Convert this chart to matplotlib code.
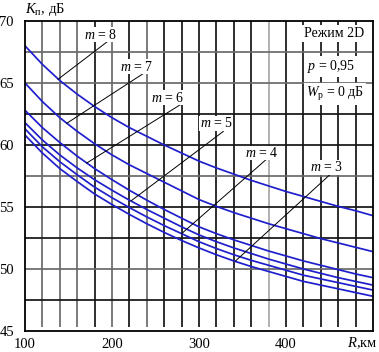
import matplotlib.pyplot as plt
import numpy as np

plt.rcParams['font.family'] = ['Liberation Serif', 'DejaVu Serif']
plt.rcParams['mathtext.fontset'] = 'custom'
plt.rcParams['mathtext.rm'] = 'Liberation Serif'
plt.rcParams['mathtext.it'] = 'Liberation Serif:italic'

# range R, km (readings every 20 km)
R = [100, 120, 140, 160, 180, 200, 220, 240, 260, 280, 300,
     320, 340, 360, 380, 400, 420, 440, 460, 480, 500]
# K_p, dB for m = 3..8
k3 = [60.8, 59.35, 58.1, 57.05, 56.05, 55.2, 54.4, 53.65, 52.95, 52.3, 51.7,
      51.15, 50.65, 50.2, 49.8, 49.4, 49.0, 48.7, 48.4, 48.1, 47.8]
k4 = [61.3, 59.85, 58.65, 57.6, 56.6, 55.75, 54.95, 54.2, 53.5, 52.85, 52.2,
      51.65, 51.15, 50.7, 50.3, 49.9, 49.5, 49.2, 48.9, 48.6, 48.3]
k5 = [61.8, 60.4, 59.2, 58.15, 57.2, 56.35, 55.55, 54.8, 54.1, 53.4, 52.75,
      52.2, 51.7, 51.25, 50.8, 50.4, 50.0, 49.65, 49.3, 49.0, 48.7]
k6 = [62.8, 61.4, 60.2, 59.1, 58.1, 57.2, 56.35, 55.55, 54.8, 54.1, 53.4,
      52.85, 52.35, 51.9, 51.45, 51.05, 50.65, 50.3, 49.95, 49.6, 49.3]
k7 = [65.0, 63.5, 62.2, 61.1, 60.1, 59.2, 58.4, 57.7, 57.0, 56.3, 55.6,
      55.05, 54.55, 54.1, 53.65, 53.25, 52.85, 52.45, 52.1, 51.75, 51.4]
k8 = [68.0, 66.5, 65.2, 64.1, 63.1, 62.2, 61.4, 60.7, 60.0, 59.35, 58.7,
      58.15, 57.65, 57.15, 56.7, 56.25, 55.85, 55.45, 55.05, 54.7, 54.3]
curves = [k3, k4, k5, k6, k7, k8]

# labels "m = ..." : text position and leader line (curve point -> text)
m_vals = [3, 4, 5, 6, 7, 8]
lab_xy = [(447, 58.2), (372, 59.35), (320, 61.75), (264, 63.8), (228, 66.3), (187, 68.9)]
lead_from = [(342, 50.65), (280, 52.85), (222, 55.5), (171, 58.55), (148, 61.75), (138, 65.3)]
lead_to = [(455, 57.9), (380, 59.0), (328, 61.1), (282, 63.4), (239, 65.9), (194, 68.3)]

fig = plt.figure(figsize=(3.79, 3.52), dpi=100)
ax = fig.add_axes([25/379, 21/352, 348/379, 310/352])
ax.set_xlim(100, 500)
ax.set_ylim(45, 70)

k = '#151515'
g = '#6a6a6a'
vx = [120, 140, 160, 180, 200, 220, 240, 260, 280, 300,
      320, 340, 360, 380, 400, 420, 440, 460, 480]
vcol = [g, g, g, k, g, k, g, k, k, k, k, k, k, '#a8a8a8', k, k, k, k, k]
for x, c in zip(vx, vcol):
    ax.vlines(x, 45.3, 70, color=c, lw=1.25, zorder=1)
hy = [47.5, 50, 52.5, 55, 57.5, 60, 62.5, 65, 67.5]
hcol = [k, g, k, k, g, k, k, g, g]
for y, c in zip(hy, hcol):
    ax.axhline(y, color=c, lw=1.25, zorder=1)

for kk in curves:
    ax.plot(R, kk, color='#1f1fcc', lw=1.25, zorder=3)

for m, (tx, ty), p0, p1 in zip(m_vals, lab_xy, lead_from, lead_to):
    ax.plot([p0[0], p1[0]], [p0[1], p1[1]], color='black', lw=0.7, zorder=4)
    ax.text(tx, ty, '$m$ = %d' % m, fontsize=10, ha='center', va='center', zorder=5,
            bbox=dict(facecolor='white', edgecolor='none', pad=0.3))

box = dict(facecolor='white', edgecolor='none', pad=1.5)
ax.text(455, 69.0, 'Режим 2D', fontsize=10, ha='center', va='center', bbox=box, zorder=5)
ax.text(452, 66.3, '$p$ = 0,95', fontsize=10, ha='center', va='center', bbox=box, zorder=5)
ax.text(456, 64.1, '$W_\\mathrm{р}$ = 0 дБ', fontsize=10, ha='center', va='center', bbox=box, zorder=5)

for s in ax.spines.values():
    s.set_color('black')
    s.set_linewidth(1.3)
    s.set_zorder(6)

ax.set_xticks([100, 200, 300, 400])
ax.set_yticks([45, 50, 55, 60, 65, 70])
ax.tick_params(axis='both', length=0, labelsize=10.5)
ax.tick_params(axis='x', pad=5)
ax.tick_params(axis='y', pad=8)

fig.text(25/379, 1 - 10/352, '$K_\\mathrm{п}$, дБ', fontsize=10.5, ha='left', va='center')
fig.text(378/379, 1 - 343/352, '$R$,км', fontsize=10.5, ha='right', va='center')

fig.savefig('out.png', dpi=100, facecolor='white')
